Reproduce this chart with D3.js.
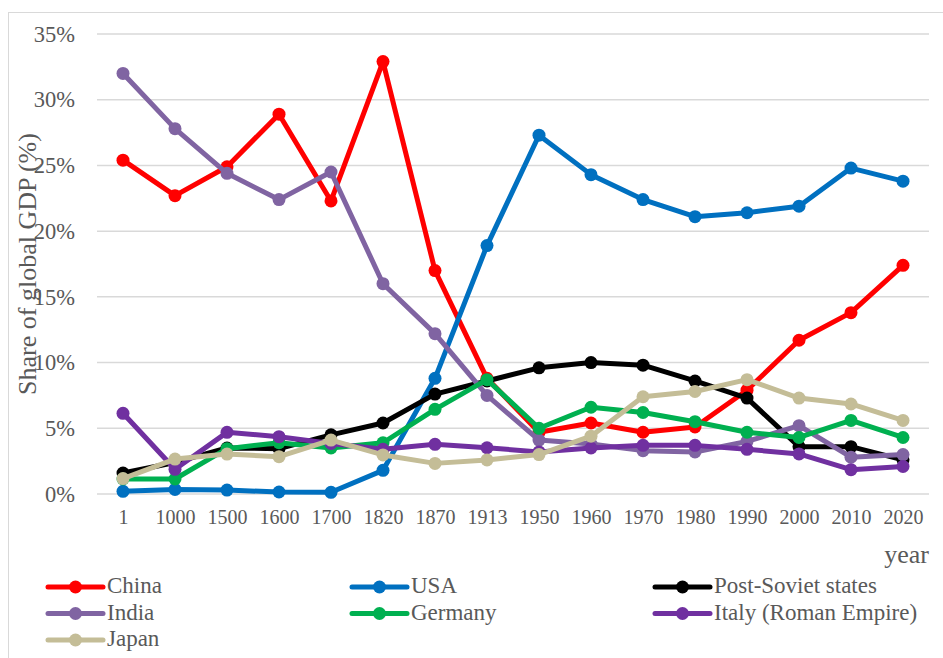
<!DOCTYPE html>
<html>
<head>
<meta charset="utf-8">
<script src="https://cdn.jsdelivr.net/npm/d3@7"></script>
<style>
  body { margin: 0; background: #fff; }
  text { font-family: "Liberation Serif", "Times New Roman", serif; fill: #595959; }
</style>
</head>
<body>
<div id="chart"></div>
<script>
// values (share of global GDP, %)
var years = ["1", "1000", "1500", "1600", "1700", "1820", "1870", "1913", "1950", "1960", "1970", "1980", "1990", "2000", "2010", "2020"];
var yTicks = [0, 5, 10, 15, 20, 25, 30, 35];

var china      = [25.4, 22.7, 24.9, 28.9, 22.3, 32.9, 17.0, 8.8, 4.7, 5.4, 4.7, 5.1, 7.9, 11.7, 13.8, 17.4];
var usa        = [0.2, 0.35, 0.3, 0.15, 0.13, 1.8, 8.8, 18.9, 27.3, 24.3, 22.4, 21.1, 21.4, 21.9, 24.8, 23.8];
var postSoviet = [1.6, 2.4, 3.5, 3.45, 4.5, 5.4, 7.6, 8.6, 9.6, 10.0, 9.8, 8.6, 7.3, 3.6, 3.6, 2.6];
var india      = [32.0, 27.8, 24.4, 22.4, 24.5, 16.0, 12.2, 7.5, 4.1, 3.8, 3.3, 3.2, 4.0, 5.2, 2.8, 3.0];
var germany    = [1.14, 1.14, 3.45, 3.9, 3.5, 3.9, 6.44, 8.7, 5.0, 6.6, 6.2, 5.5, 4.7, 4.3, 5.6, 4.3];
var italy      = [6.14, 1.88, 4.69, 4.36, 3.85, 3.4, 3.78, 3.52, 3.2, 3.5, 3.7, 3.7, 3.4, 3.05, 1.85, 2.1];
var japan      = [1.17, 2.66, 3.04, 2.84, 4.1, 2.97, 2.33, 2.59, 3.0, 4.4, 7.4, 7.8, 8.7, 7.3, 6.85, 5.6];

var seriesNames  = ["China", "USA", "Post-Soviet states", "India", "Germany", "Italy (Roman Empire)", "Japan"];
var seriesValues = [china, usa, postSoviet, india, germany, italy, japan];
var seriesColors = ["#ff0000", "#0070c0", "#000000", "#8064a2", "#00b050", "#7030a0", "#c4bd97"];

var svg = d3.select("#chart").append("svg").attr("width", 943).attr("height", 658);

// chart frame
svg.append("rect")
   .attr("x", 8.5).attr("y", 12.5)
   .attr("width", 950).attr("height", 700)
   .attr("fill", "none")
   .attr("stroke", "#d9d9d9")
   .attr("stroke-width", 1);

var xScale = d3.scalePoint().domain(years).range([97, 929]).padding(0.5);
var yScale = d3.scaleLinear().domain([0, 35]).range([494, 34]);

// grid lines
svg.append("g")
   .selectAll("line")
   .data(yTicks)
   .enter().append("line")
   .attr("x1", 97).attr("x2", 929)
   .attr("y1", function(d) { return yScale(d); })
   .attr("y2", function(d) { return yScale(d); })
   .attr("stroke", "#d9d9d9")
   .attr("stroke-width", 1.5);

// y axis labels
var yAxis = svg.append("g")
   .attr("transform", "translate(85,0)")
   .call(d3.axisLeft(yScale).tickValues(yTicks).tickSize(0).tickPadding(10)
     .tickFormat(function(d) { return d + "%"; }));
yAxis.select(".domain").remove();
yAxis.selectAll("text")
     .attr("font-size", "22.5px")
     .attr("font-family", null)
     .attr("fill", "#595959");

// x axis labels
var xAxis = svg.append("g")
   .attr("transform", "translate(0,494)")
   .call(d3.axisBottom(xScale).tickSize(0).tickPadding(16));
xAxis.select(".domain").remove();
xAxis.selectAll("text")
     .attr("font-size", "20px")
     .attr("font-family", null)
     .attr("fill", "#595959");

// axis titles
svg.append("text")
   .attr("transform", "translate(36,264) rotate(-90)")
   .attr("text-anchor", "middle")
   .attr("font-size", "26px")
   .text("Share of global GDP (%)");

svg.append("text")
   .attr("x", 929)
   .attr("y", 563)
   .attr("text-anchor", "end")
   .attr("font-size", "26px")
   .text("year");

// lines + markers
var line = d3.line()
   .x(function(d, i) { return xScale(years[i]); })
   .y(function(d) { return yScale(d); });

seriesValues.forEach(function(vals, s) {
  var g = svg.append("g");
  g.append("path")
   .datum(vals)
   .attr("d", line)
   .attr("fill", "none")
   .attr("stroke", seriesColors[s])
   .attr("stroke-width", 5)
   .attr("stroke-linejoin", "round");
  g.selectAll("circle")
   .data(vals)
   .enter().append("circle")
   .attr("cx", function(d, i) { return xScale(years[i]); })
   .attr("cy", function(d) { return yScale(d); })
   .attr("r", 6.5)
   .attr("fill", seriesColors[s]);
});

// legend
var legendCols = [48, 352, 655];
var legend = svg.selectAll(".legend")
   .data(seriesNames)
   .enter().append("g")
   .attr("class", "legend")
   .attr("transform", function(d, i) {
     return "translate(" + legendCols[i % 3] + "," + (587 + Math.floor(i / 3) * 26.5) + ")";
   });

legend.append("line")
   .attr("x1", 0).attr("x2", 55)
   .attr("y1", 0).attr("y2", 0)
   .attr("stroke", function(d, i) { return seriesColors[i]; })
   .attr("stroke-width", 5)
   .attr("stroke-linecap", "round");
legend.append("circle")
   .attr("cx", 27.5).attr("cy", 0).attr("r", 6.5)
   .attr("fill", function(d, i) { return seriesColors[i]; });
legend.append("text")
   .attr("x", 59)
   .attr("y", 6)
   .attr("font-size", "23px")
   .text(function(d) { return d; });
</script>
</body>
</html>
